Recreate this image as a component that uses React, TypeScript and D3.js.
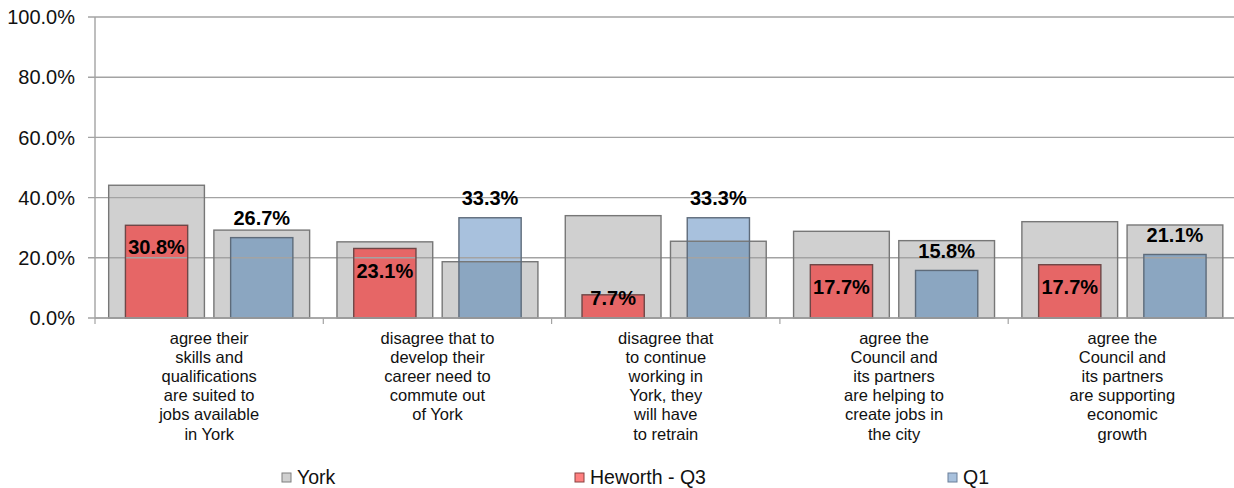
import React from "react";
import * as d3 from "d3";

const categories: string[][] = [
  ["agree their", "skills and", "qualifications", "are suited to", "jobs available", "in York"],
  ["disagree that to", "develop their", "career need to", "commute out", "of York"],
  ["disagree that", "to continue", "working in", "York, they", "will have", "to retrain"],
  ["agree the", "Council and", "its partners", "are helping to", "create jobs in", "the city"],
  ["agree the", "Council and", "its partners", "are supporting", "economic", "growth"],
];
const yorkQ3: number[] = [44.1, 25.3, 34.0, 28.8, 32.0];
const heworthQ3: number[] = [30.8, 23.1, 7.7, 17.7, 17.7];
const yorkQ1: number[] = [29.2, 18.7, 25.5, 25.7, 30.9];
const q1: number[] = [26.7, 33.3, 33.3, 15.8, 21.1];
const yTicks: number[] = [0, 20, 40, 60, 80, 100];
const legendItems: string[] = ["York", "Heworth - Q3", "Q1"];

const W = 1234;
const H = 488;
const FONT = "'Liberation Sans', Arial, Helvetica, sans-serif";

const GREY = "#d0d0d0";
const RED = "#e66666";
const BLUE_LIGHT = "#a8c1dd";
const BLUE_DARK = "#8ba6c1";
const GRID = "#a3a3a3";

export default function App() {
  const left = 95;
  const top = 17;
  const bottom = 318;
  const catW = 228.3;
  const keys = categories.map((_, i) => String(i));
  const x = d3.scaleBand<string>().domain(keys).range([left, left + catW * keys.length]).padding(0);
  const inner = d3.scaleBand<string>().domain(["h", "q"]).range([0, x.bandwidth()]).paddingInner(0.09).paddingOuter(0.13);
  const y = d3.scaleLinear().domain([0, 100]).range([bottom, top]);
  const fmt = d3.format(".1%");
  const gw = inner.bandwidth();
  const cw = gw * 0.65;

  const legendX = [282, 575, 948];
  const legendFill = [GREY, "#ff8080", BLUE_LIGHT];
  const legendStroke = ["#7f7f7f", "#8a4040", "#6a7f99"];

  return (
    <svg width={W} height={H} style={{ position: "absolute", left: 0, top: 0, background: "#fff" }} fontFamily={FONT}>
      {/* bars */}
      {keys.map((k, i) => {
        const x0 = x(k)!;
        const gh = x0 + inner("h")!;
        const gq = x0 + inner("q")!;
        const ch = gh + (gw - cw) / 2;
        const cq = gq + (gw - cw) / 2;
        const overlap = Math.min(q1[i], yorkQ1[i]);
        return (
          <g key={k}>
            <rect x={gh} y={y(yorkQ3[i])} width={gw} height={bottom - y(yorkQ3[i])} fill={GREY} />
            <rect x={gq} y={y(yorkQ1[i])} width={gw} height={bottom - y(yorkQ1[i])} fill={GREY} />
            <rect x={ch} y={y(heworthQ3[i])} width={cw} height={bottom - y(heworthQ3[i])} fill={RED} />
            <rect x={cq} y={y(q1[i])} width={cw} height={bottom - y(q1[i])} fill={BLUE_LIGHT} />
            <rect x={cq} y={y(overlap)} width={cw} height={bottom - y(overlap)} fill={BLUE_DARK} />
          </g>
        );
      })}
      {/* grid lines */}
      {yTicks.map((t) => (
        <line key={t} x1={left - 7} x2={W} y1={y(t)} y2={y(t)} stroke={GRID} strokeWidth={1.4} />
      ))}
      {/* outlines */}
      {keys.map((k, i) => {
        const x0 = x(k)!;
        const gh = x0 + inner("h")!;
        const gq = x0 + inner("q")!;
        const ch = gh + (gw - cw) / 2;
        const cq = gq + (gw - cw) / 2;
        return (
          <g key={"o" + k} fill="none" strokeWidth={1.4}>
            <rect x={gh} y={y(yorkQ3[i])} width={gw} height={bottom - y(yorkQ3[i])} stroke="#777" />
            <rect x={gq} y={y(yorkQ1[i])} width={gw} height={bottom - y(yorkQ1[i])} stroke="#777" />
            <rect x={ch} y={y(heworthQ3[i])} width={cw} height={bottom - y(heworthQ3[i])} stroke="#6e4747" />
            <rect x={cq} y={y(q1[i])} width={cw} height={bottom - y(q1[i])} stroke="#5e6b7a" />
          </g>
        );
      })}
      {/* axes */}
      <line x1={left} x2={left} y1={top} y2={bottom} stroke={GRID} strokeWidth={1.4} />
      <line x1={left} x2={W} y1={bottom} y2={bottom} stroke={GRID} strokeWidth={1.4} />
      {keys.concat([String(keys.length)]).map((k, i) => {
        const xx = left + catW * i;
        return <line key={"t" + k} x1={xx} x2={xx} y1={bottom} y2={bottom + 6} stroke={GRID} strokeWidth={1.2} />;
      })}
      {yTicks.map((t) => (
        <text key={"yl" + t} x={75} y={y(t)} dy="0.36em" textAnchor="end" fontSize={20} fill="#111">
          {fmt(t / 100)}
        </text>
      ))}
      {/* value labels */}
      {keys.map((k, i) => {
        const x0 = x(k)!;
        const mh = x0 + inner("h")! + gw / 2;
        const mq = x0 + inner("q")! + gw / 2;
        const hy = Math.min(y(heworthQ3[i]) + 22, bottom - 20);
        const qy = y(q1[i]) - 20;
        return (
          <g key={"v" + k} fontSize={20} fontWeight="bold" textAnchor="middle" fill="#000">
            <text x={mh} y={hy} dy="0.36em">{fmt(heworthQ3[i] / 100)}</text>
            <text x={mq} y={qy} dy="0.36em">{fmt(q1[i] / 100)}</text>
          </g>
        );
      })}
      {/* category labels */}
      {keys.map((k, i) => {
        const cx = x(k)! + x.bandwidth() / 2;
        return (
          <text key={"c" + k} x={cx} y={344} textAnchor="middle" fontSize={16.5} fill="#111">
            {categories[i].map((line, j) => (
              <tspan key={j} x={cx} y={344 + j * 19.1}>{line}</tspan>
            ))}
          </text>
        );
      })}
      {/* legend */}
      {legendItems.map((name, i) => (
        <g key={"l" + name}>
          <rect x={legendX[i]} y={473} width={9} height={9} fill={legendFill[i]} stroke={legendStroke[i]} strokeWidth={1} />
          <text x={legendX[i] + 15} y={477} dy="0.35em" fontSize={19.5} fill="#111">{name}</text>
        </g>
      ))}
    </svg>
  );
}
